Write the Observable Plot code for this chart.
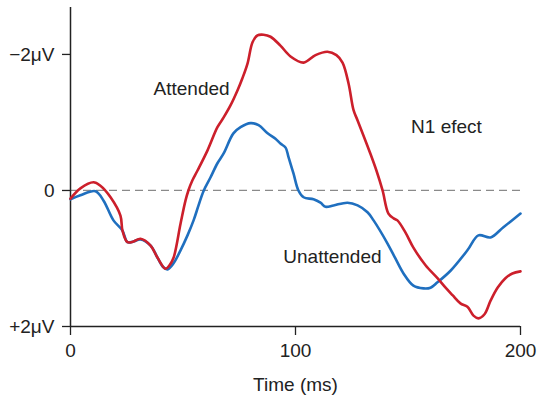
<!DOCTYPE html>
<html>
<head>
<meta charset="utf-8">
<script src="https://cdn.jsdelivr.net/npm/d3@7"></script>
<script src="https://cdn.jsdelivr.net/npm/@observablehq/plot@0.6"></script>
<style>
  html, body { margin: 0; padding: 0; background: #fff; }
  #chart { width: 538px; height: 405px; }
</style>
</head>
<body>
<div id="chart"></div>
<script>
// Attended waveform (time in ms, amplitude in µV; negative is up)
const attendedTime = [0, 4.4, 10.2, 13.3, 17.8, 22.2, 23.1, 25.3, 28, 31.1, 35.6, 38.7, 42.2, 44, 45.8, 48.9, 51.1, 52.4, 54.2, 56.4, 60.9, 65.3, 68, 71.1, 74.2, 76.4, 78.7, 80.9, 83.1, 85.8, 88.9, 93.3, 97.8, 103.6, 108.9, 114.2, 118.2, 120.9, 123.6, 125.8, 127.6, 133.3, 136, 138.7, 141.3, 143.6, 145.3, 148.9, 152.4, 157.8, 163.1, 166.7, 169.8, 173.3, 176.4, 179.1, 181.3, 184, 186.7, 189.8, 193.3, 196.4, 200];
const attendedValue = [0.12, -0.03, -0.12, -0.07, 0.10, 0.37, 0.59, 0.76, 0.75, 0.71, 0.81, 0.99, 1.15, 1.10, 0.99, 0.49, 0.15, 0, -0.15, -0.29, -0.59, -0.93, -1.07, -1.25, -1.47, -1.65, -1.87, -2.18, -2.28, -2.29, -2.26, -2.13, -1.97, -1.88, -1.99, -2.04, -1.99, -1.88, -1.57, -1.18, -1.03, -0.54, -0.29, 0, 0.34, 0.41, 0.44, 0.62, 0.84, 1.10, 1.29, 1.43, 1.54, 1.66, 1.71, 1.84, 1.88, 1.82, 1.62, 1.43, 1.29, 1.22, 1.19];

// Unattended waveform
const unattendedTime = [0, 4.4, 11.1, 14.7, 19.1, 23.1, 25.3, 28, 31.1, 35.6, 38.7, 41.3, 43.1, 45.8, 48.9, 52, 54.7, 56.9, 59.1, 62.2, 65.3, 68, 72.4, 75.6, 80, 83.6, 87.6, 91.1, 93.3, 95.6, 96.9, 99.1, 101.3, 103.6, 108, 111.1, 113.3, 116.9, 123.1, 127.6, 132, 134.7, 140.9, 144.4, 148, 152.4, 156.9, 160, 163.1, 168.9, 176.4, 181.3, 186.7, 192.4, 200];
const unattendedValue = [0.13, 0.07, 0.01, 0.15, 0.44, 0.59, 0.76, 0.75, 0.72, 0.81, 0.99, 1.13, 1.16, 1.07, 0.88, 0.66, 0.44, 0.22, 0.01, -0.19, -0.40, -0.54, -0.84, -0.93, -0.99, -0.96, -0.84, -0.76, -0.69, -0.63, -0.49, -0.25, 0, 0.10, 0.13, 0.18, 0.24, 0.22, 0.18, 0.22, 0.32, 0.44, 0.78, 1.0, 1.22, 1.40, 1.44, 1.43, 1.35, 1.18, 0.88, 0.66, 0.69, 0.54, 0.34];

// Axis ticks and labels
const xTicks = [0, 100, 200];
const yTicks = [-2, 0, 2];
const yTickLabels = ["\u22122\u03bcV", "0", "+2\u03bcV"];
const xLabel = "Time (ms)";

// Annotations
const labelText = ["Attended", "Unattended", "N1 efect"];
const labelTime = [53.8, 116.4, 167.1];
const labelValue = [-1.49, 0.97, -0.94];

const attended = attendedTime.map((t, i) => ({t, v: attendedValue[i]}));
const unattended = unattendedTime.map((t, i) => ({t, v: unattendedValue[i]}));
const labels = labelText.map((s, i) => ({s, t: labelTime[i], v: labelValue[i]}));

const font = "'Liberation Sans', Arial, Helvetica, sans-serif";

const chart = Plot.plot({
  width: 538,
  height: 405,
  marginLeft: 70,
  marginRight: 18,
  marginTop: 7,
  marginBottom: 79,
  style: { fontFamily: font, fontSize: "19px", color: "#222", background: "#fff" },
  x: { domain: [0, 200] },
  y: { domain: [2, -2.69] },
  marks: [
    Plot.ruleY([0], { stroke: "#8a8a8a", strokeWidth: 1.3, strokeDasharray: "8,5" }),
    Plot.axisY({ ticks: yTicks, tickSize: 8, tickPadding: 8, tickFormat: (d) => yTickLabels[yTicks.indexOf(d)], label: null, stroke: "#222", strokeWidth: 1.3, fontSize: 19 }),
    Plot.axisX({ ticks: xTicks, tickSize: 9, tickPadding: 8, label: null, stroke: "#222", strokeWidth: 1.3, fontSize: 19 }),
    Plot.ruleX([0], { stroke: "#222", strokeWidth: 1.5 }),
    Plot.ruleY([2], { stroke: "#222", strokeWidth: 1.5 }),
    Plot.line(unattended, { x: "t", y: "v", stroke: "#1f6fbf", strokeWidth: 2.6, curve: "catmull-rom" }),
    Plot.line(attended, { x: "t", y: "v", stroke: "#cc1f2b", strokeWidth: 2.6, curve: "catmull-rom" }),
    Plot.text(labels, { x: "t", y: "v", text: "s", fontSize: 19, fill: "#222", textAnchor: "middle", lineAnchor: "middle" }),
    Plot.text([xLabel], { x: 100, frameAnchor: "bottom", dy: 58, text: (d) => d, fontSize: 19, fill: "#222", lineAnchor: "middle" })
  ]
});
document.getElementById("chart").appendChild(chart);
</script>
</body>
</html>
